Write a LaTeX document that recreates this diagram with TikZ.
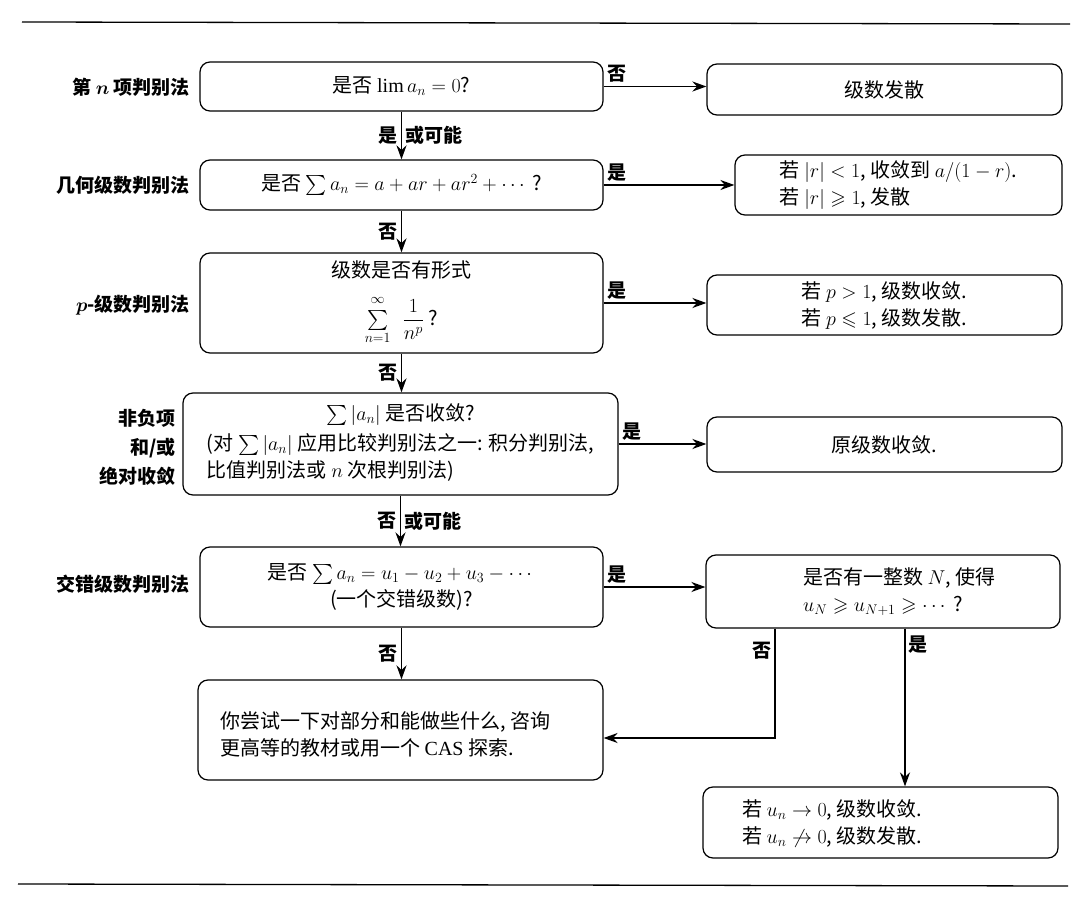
\documentclass[tikz,border=0pt]{standalone}
\usepackage{fix-cm}
\usepackage{amsmath}
\usepackage{amssymb}
\usepackage{fontspec}
\setmainfont{Liberation Serif}
\newfontfamily\cjk{Noto Sans CJK SC}
\usetikzlibrary{arrows.meta,calc}
\tikzset{
  box/.style={draw, rounded corners=10pt, line width=1.2pt, align=center,
    inner sep=4pt, font=\cjk\fontsize{20}{27}\selectfont},
  txt/.style={align=left, inner sep=0pt, font=\cjk\fontsize{20}{27}\selectfont},
  arr/.style={-{Stealth[length=14pt,width=10pt]}, line width=1.8pt},
  lbl/.style={font=\cjk\bfseries\fontsize{19}{22}\selectfont, inner sep=3pt},
  side/.style={font=\cjk\bfseries\fontsize{19}{29}\selectfont, anchor=east, align=right, inner sep=0pt},
  rule/.style={line width=1.3pt}
}
\begin{document}
\begin{tikzpicture}[x=1pt,y=-1pt]
\useasboundingbox (0,0) rectangle (1088,912);
\fill[white] (0,0) rectangle (1088,912);
% rules
\draw[rule] (22,22) -- (1070,24);
\draw[rule] (18,884) -- (1068,886);
% main column
\node[box, minimum width=403pt, minimum height=49pt] (A) at (401.5,86.5) {是否 $\lim a_n = 0$?};
\node[box, minimum width=403pt, minimum height=50pt] (B) at (401.5,185) {是否 $\sum a_n = a + ar + ar^2 + \cdots$ ?};
\node[box, minimum width=403pt, minimum height=100pt] (C) at (401.5,303) {级数是否有形式\\[15pt] $\sum\limits_{n=1}^{\raisebox{3pt}{$\scriptstyle\infty$}}\ \ \dfrac{1}{n^p}$ ?};
\node[box, minimum width=435pt, minimum height=102pt] (E) at (400.5,444) {\begin{tabular}{@{}l@{}}\multicolumn{1}{@{}c@{}}{$\sum |a_n|$ 是否收敛?}\\[3pt]
(对 $\sum |a_n|$ 应用比较判别法之一: 积分判别法,\\
比值判别法或 $n$ 次根判别法)\end{tabular}};
\node[box, minimum width=403pt, minimum height=80pt] (F) at (401.5,587) {是否 $\sum a_n = u_1 - u_2 + u_3 - \cdots$\\ (一个交错级数)?};
\node[box, minimum width=405pt, minimum height=100pt] (H) at (400.5,730) {};
\node[txt, anchor=west] (Ht) at (220,734) {你尝试一下对部分和能做些什么, 咨询\\ 更高等的教材或用一个 {\rmfamily CAS} 探索.};
% right column
\node[box, minimum width=355pt, minimum height=51pt] (D1) at (884.5,89.5) {级数发散};
\node[box, minimum width=327pt, minimum height=60pt, align=left] (D2) at (898.5,185) {若 $|r|<1$, 收敛到 $a/(1-r)$.\\ 若 $|r|\geqslant 1$, 发散};
\node[box, minimum width=355pt, minimum height=60pt, align=left] (D3) at (884.5,305) {若 $p>1$, 级数收敛.\\ 若 $p\leqslant 1$, 级数发散.};
\node[box, minimum width=355pt, minimum height=55pt] (D4) at (884.5,444.5) {原级数收敛.};
\node[box, minimum width=354pt, minimum height=73pt] (G) at (883,591.5) {};
\node[txt, anchor=west] (Gt) at (803,591.5) {是否有一整数 $N$, 使得\\ $u_N \geqslant u_{N+1} \geqslant \cdots$ ?};
\node[box, minimum width=355pt, minimum height=71pt] (I) at (880.5,822.5) {};
\node[txt, anchor=west] (It) at (742,823) {若 $u_n \to 0$, 级数收敛.\\ 若 $u_n \not\to 0$, 级数发散.};
% side labels
\node[side] (LA) at (190,87) {第 {\boldmath$n$} 项判别法};
\node[side] (LB) at (190,185) {几何级数判别法};
\node[side] (LC) at (190,305) {{\boldmath$p$}-级数判别法};
\node[side] (LE) at (176,447) {非负项\\和/或\\绝对收敛};
\node[side] (LF) at (190,584) {交错级数判别法};
% horizontal connectors
\draw[arr] (A.east) -- node[lbl, pos=0, anchor=south west]{否} (A.east -| D1.west);
\draw[arr] (B.east) -- node[lbl, pos=0, anchor=south west]{是} (B.east -| D2.west);
\draw[arr] (C.east) -- node[lbl, pos=0, anchor=south west]{是} (C.east -| D3.west);
\draw[arr] (E.east) -- node[lbl, pos=0, anchor=south west]{是} (E.east -| D4.west);
\draw[arr] (F.east) -- node[lbl, pos=0, anchor=south west]{是} (F.east -| G.west);
% vertical connectors
\draw[arr] (A.south) -- node[lbl, left]{是} node[lbl, right]{或可能} (B.north);
\draw[arr] (B.south) -- node[lbl, left]{否} (C.north);
\draw[arr] (C.south) -- node[lbl, left]{否} (C.south |- E.north);
\draw[arr] (E.south) -- node[lbl, left]{否} node[lbl, right]{或可能} (E.south |- F.north);
\draw[arr] (F.south) -- node[lbl, left]{否} (F.south |- H.north);
\draw[arr] ([xshift=-108pt]G.south) |- node[lbl, pos=0.1, left]{否} ([yshift=-8pt]H.east);
\draw[arr] ([xshift=22pt]G.south) -- node[lbl, pos=0.1, right]{是} ([xshift=22pt]G.south |- I.north);
\end{tikzpicture}
\end{document}
